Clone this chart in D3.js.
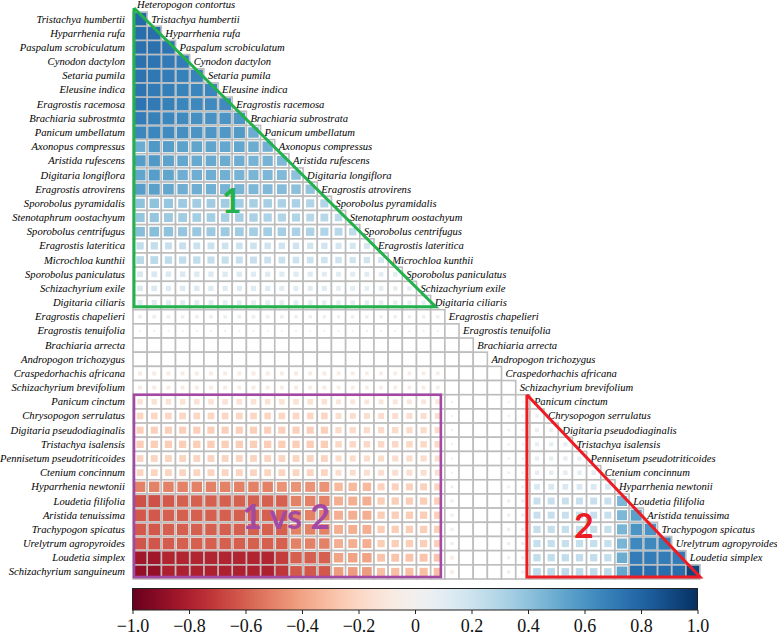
<!DOCTYPE html>
<html><head><meta charset="utf-8">
<script src="https://cdn.jsdelivr.net/npm/d3@7/dist/d3.min.js"></script>
<style>body{margin:0;background:#fff}svg{display:block}</style>
</head><body>
<svg id="chart" width="777" height="639"></svg>
<script>
// Row labels (left side, species 2..41) and column labels (diagonal, species 1..40)
const rowLabels = ["Tristachya humbertii","Hyparrhenia rufa","Paspalum scrobiculatum","Cynodon dactylon","Setaria pumila","Eleusine indica","Eragrostis racemosa","Brachiaria subrostmta","Panicum umbellatum","Axonopus compressus","Aristida rufescens","Digitaria longiflora","Eragrostis atrovirens","Sporobolus pyramidalis","Stenotaphrum oostachyum","Sporobolus centrifugus","Eragrostis lateritica","Microchloa kunthii","Sporobolus paniculatus","Schizachyrium exile","Digitaria ciliaris","Eragrostis chapelieri","Eragrostis tenuifolia","Brachiaria arrecta","Andropogon trichozygus","Craspedorhachis africana","Schizachyrium brevifolium","Panicum cinctum","Chrysopogon serrulatus","Digitaria pseudodiaginalis","Tristachya isalensis","Pennisetum pseudotriticoides","Ctenium concinnum","Hyparrhenia newtonii","Loudetia filifolia","Aristida tenuissima","Trachypogon spicatus","Urelytrum agropyroides","Loudetia simplex","Schizachyrium sanguineum"];
const colLabels = ["Heteropogon contortus","Tristachya humbertii","Hyparrhenia rufa","Paspalum scrobiculatum","Cynodon dactylon","Setaria pumila","Eleusine indica","Eragrostis racemosa","Brachiaria subrostrata","Panicum umbellatum","Axonopus compressus","Aristida rufescens","Digitaria longiflora","Eragrostis atrovirens","Sporobolus pyramidalis","Stenotaphrum oostachyum","Sporobolus centrifugus","Eragrostis lateritica","Microchloa kunthii","Sporobolus paniculatus","Schizachyrium exile","Digitaria ciliaris","Eragrostis chapelieri","Eragrostis tenuifolia","Brachiaria arrecta","Andropogon trichozygus","Craspedorhachis africana","Schizachyrium brevifolium","Panicum cinctum","Chrysopogon serrulatus","Digitaria pseudodiaginalis","Tristachya isalensis","Pennisetum pseudotriticoides","Ctenium concinnum","Hyparrhenia newtonii","Loudetia filifolia","Aristida tenuissima","Trachypogon spicatus","Urelytrum agropyroides","Loudetia simplex"];

// Lower-triangle correlations: row i has i+1 values (columns 0..i)
const values = [
[0.78],
[0.76,0.76],
[0.75,0.75,0.73],
[0.75,0.73,0.71,0.70],
[0.74,0.72,0.70,0.68,0.67],
[0.73,0.71,0.69,0.67,0.66,0.66],
[0.73,0.71,0.68,0.66,0.65,0.64,0.64],
[0.70,0.68,0.66,0.64,0.62,0.61,0.60,0.59],
[0.66,0.66,0.64,0.62,0.60,0.59,0.58,0.57,0.50],
[0.50,0.58,0.56,0.54,0.53,0.53,0.52,0.52,0.50,0.48],
[0.56,0.58,0.54,0.52,0.51,0.51,0.50,0.49,0.47,0.47,0.44],
[0.53,0.56,0.53,0.49,0.49,0.49,0.48,0.47,0.46,0.45,0.44,0.41],
[0.56,0.55,0.52,0.49,0.49,0.48,0.47,0.46,0.45,0.44,0.43,0.41,0.39],
[0.40,0.40,0.38,0.36,0.35,0.35,0.35,0.34,0.33,0.33,0.32,0.32,0.30,0.30],
[0.38,0.38,0.36,0.35,0.34,0.34,0.33,0.33,0.32,0.31,0.30,0.30,0.28,0.28,0.26],
[0.42,0.42,0.40,0.38,0.37,0.36,0.36,0.35,0.34,0.34,0.33,0.32,0.31,0.30,0.28,0.25],
[0.24,0.24,0.22,0.22,0.21,0.21,0.20,0.20,0.20,0.19,0.19,0.19,0.18,0.18,0.17,0.17,0.16],
[0.27,0.27,0.25,0.24,0.24,0.23,0.23,0.22,0.22,0.21,0.21,0.20,0.20,0.19,0.19,0.18,0.18,0.16],
[0.15,0.15,0.14,0.14,0.13,0.13,0.13,0.13,0.12,0.12,0.12,0.12,0.12,0.11,0.11,0.11,0.11,0.10,0.10],
[0.14,0.14,0.13,0.13,0.13,0.12,0.12,0.12,0.12,0.12,0.11,0.11,0.11,0.11,0.10,0.10,0.10,0.10,0.09,0.09],
[0.12,0.12,0.11,0.11,0.11,0.11,0.10,0.10,0.10,0.10,0.10,0.10,0.10,0.09,0.09,0.09,0.09,0.09,0.08,0.08,0.08],
[0.06,0.06,0.06,0.06,0.06,0.06,0.06,0.06,0.06,0.06,0.06,0.05,0.05,0.05,0.05,0.05,0.05,0.05,0.05,0.05,0.05,0.05],
[0.02,0.02,0.02,0.02,0.02,0.02,0.02,0.02,0.02,0.02,0.02,0.02,0.02,0.02,0.02,0.02,0.02,0.02,0.02,0.02,0.02,0.02,0],
[0,0,0,0,0,0,0,0,0,0,0,0,0,0,0,0,0,0,0,0,0,0,0,0],
[0,0,0,0,0,0,0,0,0,0,0,0,0,0,0,0,0,0,0,0,0,0,0,0,0],
[-0.07,-0.07,-0.07,-0.07,-0.07,-0.07,-0.07,-0.07,-0.07,-0.07,-0.07,-0.07,-0.07,-0.07,-0.06,-0.06,-0.06,-0.06,-0.06,-0.06,-0.06,-0.06,0,0,0,0],
[-0.07,-0.07,-0.07,-0.07,-0.07,-0.07,-0.07,-0.07,-0.07,-0.07,-0.07,-0.07,-0.07,-0.07,-0.06,-0.06,-0.06,-0.06,-0.06,-0.06,-0.06,-0.06,0,0,0,0,0],
[-0.14,-0.14,-0.14,-0.14,-0.14,-0.14,-0.14,-0.14,-0.14,-0.14,-0.14,-0.14,-0.14,-0.14,-0.11,-0.11,-0.11,-0.11,-0.11,-0.11,-0.11,-0.11,-0.02,0,0,0,0.02,0.02],
[-0.20,-0.20,-0.20,-0.20,-0.20,-0.20,-0.20,-0.20,-0.20,-0.20,-0.20,-0.20,-0.20,-0.20,-0.16,-0.16,-0.16,-0.16,-0.16,-0.16,-0.16,-0.16,-0.02,0,0,0,0.03,0.03,0.05],
[-0.23,-0.23,-0.23,-0.23,-0.23,-0.23,-0.23,-0.23,-0.23,-0.23,-0.23,-0.23,-0.23,-0.23,-0.18,-0.18,-0.18,-0.18,-0.18,-0.18,-0.18,-0.18,-0.02,0,0,0,0.03,0.03,0.07,0.07],
[-0.24,-0.24,-0.24,-0.24,-0.24,-0.24,-0.24,-0.24,-0.24,-0.24,-0.24,-0.24,-0.24,-0.24,-0.19,-0.19,-0.19,-0.19,-0.19,-0.19,-0.19,-0.19,-0.02,0,0,0,0.03,0.03,0.08,0.08,0.08],
[-0.21,-0.21,-0.21,-0.21,-0.21,-0.21,-0.21,-0.21,-0.21,-0.21,-0.21,-0.21,-0.21,-0.21,-0.17,-0.17,-0.17,-0.17,-0.17,-0.17,-0.17,-0.17,-0.02,0,0,0,0.03,0.03,0.08,0.08,0.08,0.08],
[-0.21,-0.21,-0.21,-0.21,-0.21,-0.21,-0.21,-0.21,-0.21,-0.21,-0.21,-0.21,-0.21,-0.21,-0.16,-0.16,-0.16,-0.16,-0.16,-0.16,-0.16,-0.16,-0.02,0,0,0,0.03,0.03,0.09,0.09,0.09,0.09,0.09],
[-0.50,-0.50,-0.50,-0.50,-0.50,-0.50,-0.50,-0.50,-0.50,-0.50,-0.45,-0.45,-0.45,-0.45,-0.32,-0.32,-0.32,-0.22,-0.22,-0.22,-0.22,-0.22,-0.04,0,0,0,0.04,0.04,0.15,0.15,0.15,0.15,0.15,0.15],
[-0.64,-0.64,-0.62,-0.60,-0.60,-0.60,-0.60,-0.60,-0.60,-0.60,-0.60,-0.50,-0.50,-0.50,-0.36,-0.36,-0.36,-0.24,-0.24,-0.24,-0.24,-0.24,-0.05,0,0,0,0.05,0.05,0.22,0.22,0.22,0.22,0.22,0.22,0.45],
[-0.62,-0.62,-0.60,-0.60,-0.60,-0.60,-0.60,-0.60,-0.60,-0.60,-0.60,-0.50,-0.50,-0.50,-0.36,-0.36,-0.36,-0.24,-0.24,-0.24,-0.24,-0.24,-0.05,0,0,0,0.05,0.05,0.22,0.22,0.22,0.22,0.22,0.22,0.45,0.55],
[-0.62,-0.62,-0.60,-0.60,-0.60,-0.60,-0.60,-0.60,-0.60,-0.60,-0.60,-0.50,-0.50,-0.50,-0.36,-0.36,-0.36,-0.24,-0.24,-0.24,-0.24,-0.24,-0.05,0,0,0,0.05,0.05,0.23,0.23,0.23,0.23,0.23,0.23,0.46,0.60,0.60],
[-0.63,-0.63,-0.61,-0.60,-0.60,-0.60,-0.60,-0.60,-0.60,-0.60,-0.60,-0.50,-0.50,-0.50,-0.36,-0.36,-0.36,-0.24,-0.24,-0.24,-0.24,-0.24,-0.05,0,0,0,0.05,0.05,0.23,0.23,0.23,0.23,0.23,0.23,0.46,0.65,0.65,0.68],
[-0.84,-0.84,-0.78,-0.78,-0.78,-0.78,-0.78,-0.78,-0.78,-0.78,-0.70,-0.60,-0.60,-0.60,-0.40,-0.40,-0.40,-0.28,-0.28,-0.28,-0.28,-0.28,-0.06,0,0,0,0.05,0.05,0.24,0.24,0.24,0.24,0.24,0.24,0.50,0.70,0.70,0.70,0.70],
[-0.88,-0.88,-0.80,-0.80,-0.80,-0.80,-0.80,-0.80,-0.80,-0.80,-0.72,-0.62,-0.62,-0.62,-0.42,-0.42,-0.42,-0.30,-0.30,-0.30,-0.30,-0.30,-0.06,0,0,0,0.05,0.05,0.26,0.26,0.26,0.26,0.26,0.26,0.52,0.76,0.76,0.76,0.76,0.92]
];

const colorTicks = [-1,-0.8,-0.6,-0.4,-0.2,0,0.2,0.4,0.6,0.8,1];

// Group annotations defined in grid units (column / row indices)
const groupLabels = [
  {text:"1", col:6.95, row:14.2, color:"#22b14c"},
  {text:"1 vs 2", col:10.8, row:36.5, color:"#a349a4"},
  {text:"2", col:31.8, row:37.1, color:"#ed1c24"}
];

const svg = d3.select("#chart");
const n = colLabels.length;
const x = d3.scaleBand().domain(d3.range(n)).range([133, 700]);
const y = d3.scaleBand().domain(d3.range(n)).range([12, 579]);
const bw = x.bandwidth();
const gx = c => x.range()[0] + c * bw;
const gy = r => y.range()[0] + r * bw;
const color = v => d3.interpolateRdBu((v + 1) / 2);
const size = v => Math.min(bw - 1.6, bw * 1.05 * Math.sqrt(Math.abs(v)));

const cells = [];
values.forEach((row, p) => row.forEach((v, c) => cells.push({p, c, v})));

const g = svg.append("g");
g.selectAll("rect.cell").data(cells).join("rect").attr("class","cell")
  .attr("x", d => x(d.c)).attr("y", d => y(d.p))
  .attr("width", bw).attr("height", bw)
  .attr("fill", "#fff").attr("stroke", "#bdbdbd").attr("stroke-width", 1.6);
g.selectAll("rect.sq").data(cells.filter(d => Math.abs(d.v) > 0.004)).join("rect").attr("class","sq")
  .attr("x", d => x(d.c) + (bw - size(d.v)) / 2)
  .attr("y", d => y(d.p) + (bw - size(d.v)) / 2)
  .attr("width", d => size(d.v)).attr("height", d => size(d.v))
  .attr("fill", d => color(d.v));

const font = "'Liberation Serif','Times New Roman',Times,serif";
svg.append("g").selectAll("text").data(rowLabels).join("text")
  .attr("x", x.range()[0] - 8).attr("y", (d, i) => y(i) + bw / 2)
  .attr("text-anchor", "end").attr("dominant-baseline", "central")
  .attr("font-family", font).attr("font-style", "italic").attr("font-size", 10.6)
  .attr("fill", "#000").text(d => d);
svg.append("g").selectAll("text").data(colLabels).join("text")
  .attr("x", (d, i) => gx(i) + 4).attr("y", (d, i) => gy(i - 0.5))
  .attr("text-anchor", "start").attr("dominant-baseline", "central")
  .attr("font-family", font).attr("font-style", "italic").attr("font-size", 10.6)
  .attr("fill", "#000").text(d => d);

// Annotation shapes
const ann = svg.append("g").attr("fill", "none");
ann.append("path").attr("stroke", "#22b14c").attr("stroke-width", 3)
  .attr("d", d3.line()([[gx(0) + 1, gy(0) - 4], [gx(0) + 1, gy(21) - 3], [gx(21) + 5, gy(21) - 3], [gx(0) + 1, gy(0) - 4]]));
ann.append("rect").attr("stroke", "#a349a4").attr("stroke-width", 2.6)
  .attr("x", gx(0) + 1).attr("y", gy(27)).attr("width", gx(22) - 4 - gx(0) - 1).attr("height", gy(40) - 2 - gy(27));
ann.append("path").attr("stroke", "#ed1c24").attr("stroke-width", 3)
  .attr("d", d3.line()([[gx(28) - 3, gy(27)], [gx(28) - 3, gy(40) - 2], [gx(40), gy(40) - 2], [gx(28) - 3, gy(27)]]));
svg.append("g").selectAll("text").data(groupLabels).join("text")
  .attr("x", d => gx(d.col)).attr("y", d => gy(d.row))
  .attr("text-anchor", "middle").attr("font-family", "Lato, 'Open Sans', sans-serif")
  .attr("font-weight", "bold").attr("font-size", 34).attr("fill", d => d.color).text(d => d.text);

// Colour bar
const cb = d3.scaleLinear().domain([-1, 1]).range([132.5, 697.5]);
const defs = svg.append("defs");
const grad = defs.append("linearGradient").attr("id", "cbgrad");
d3.range(0, 1.0001, 0.02).forEach(t => grad.append("stop").attr("offset", t).attr("stop-color", d3.interpolateRdBu(t)));
svg.append("rect").attr("x", cb(-1)).attr("y", 588.5).attr("width", cb(1) - cb(-1)).attr("height", 21.5)
  .attr("fill", "url(#cbgrad)").attr("stroke", "#222").attr("stroke-width", 1);
const axis = d3.axisBottom(cb).tickValues(colorTicks).tickSize(4).tickPadding(5)
  .tickFormat(v => v === 0 ? "0" : d3.format(".1f")(v));
const ag = svg.append("g").attr("transform", "translate(0,610)").call(axis);
ag.select(".domain").remove();
ag.selectAll("text").attr("font-family", font).attr("font-size", 18).attr("fill", "#111");
ag.selectAll("line").attr("stroke", "#222");
</script>
</body></html>
